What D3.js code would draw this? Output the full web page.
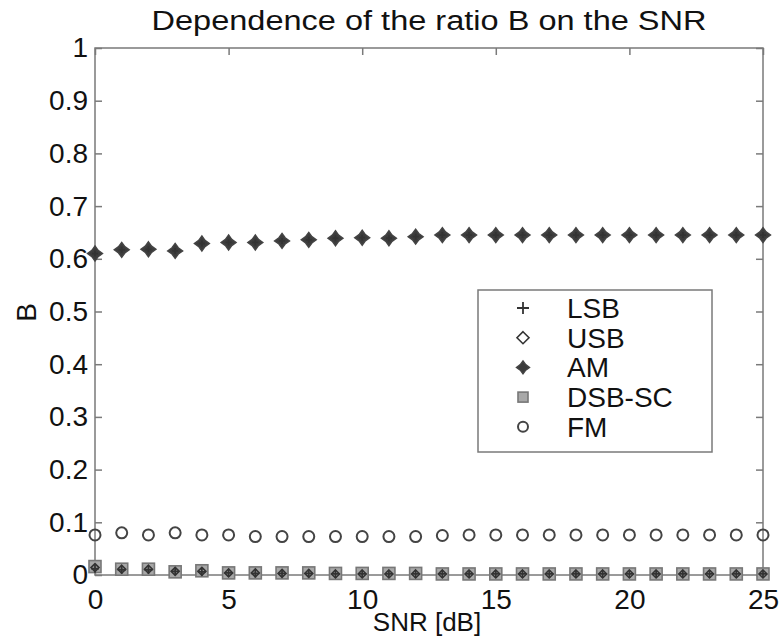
<!DOCTYPE html>
<html>
<head>
<meta charset="utf-8">
<script src="https://cdn.jsdelivr.net/npm/d3@7"></script>
<style>
  body { margin: 0; background: #fff; }
  text { font-family: "Liberation Sans", Arial, sans-serif; fill: #111; }
</style>
</head>
<body>
<div class="chart"></div>
<script>
var snr = [0,1,2,3,4,5,6,7,8,9,10,11,12,13,14,15,16,17,18,19,20,21,22,23,24,25];
var lsb = [0.012,0.01,0.01,0.007,0.006,0.004,0.003,0.003,0.003,0.002,0.002,0.002,0.002,0.002,0.002,0.002,0.002,0.002,0.002,0.002,0.002,0.002,0.002,0.002,0.002,0.002];
var usb = [0.014,0.011,0.011,0.007,0.007,0.004,0.004,0.003,0.003,0.002,0.002,0.002,0.002,0.002,0.002,0.002,0.002,0.002,0.002,0.002,0.002,0.002,0.002,0.002,0.002,0.002];
var am = [0.61,0.617,0.618,0.615,0.629,0.631,0.631,0.634,0.636,0.639,0.64,0.639,0.642,0.645,0.645,0.645,0.645,0.645,0.645,0.645,0.645,0.645,0.645,0.645,0.645,0.645];
var dsbsc = [0.016,0.011,0.011,0.006,0.008,0.004,0.004,0.004,0.004,0.003,0.003,0.003,0.003,0.002,0.002,0.002,0.002,0.002,0.002,0.002,0.002,0.002,0.002,0.002,0.002,0.002];
var fm = [0.076,0.08,0.076,0.08,0.076,0.076,0.073,0.073,0.073,0.073,0.073,0.073,0.073,0.075,0.076,0.076,0.076,0.076,0.076,0.076,0.076,0.076,0.076,0.076,0.076,0.076];
var seriesNames = ['LSB','USB','AM','DSB-SC','FM'];
var xTicks = [0,5,10,15,20,25];
var yTicks = [0,0.1,0.2,0.3,0.4,0.5,0.6,0.7,0.8,0.9,1];

var W = 779, H = 640;
var margin = {top:48, right:16, bottom:65, left:95};
var width = W - margin.left - margin.right;
var height = H - margin.top - margin.bottom;
var fontSize = '28px';

var svg = d3.select('div.chart').append('svg')
    .attr('width', W)
    .attr('height', H);
var g = svg.append('g')
    .attr('transform', 'translate(' + margin.left + ',' + margin.top + ')');

var x = d3.scaleLinear().domain([0, 25]).range([0, width]);
var y = d3.scaleLinear().domain([0, 1]).range([height, 0]);

var axisColor = '#7a7a7a';
function styleAxis(sel, hideText) {
  sel.select('.domain').remove();
  sel.selectAll('line').attr('stroke', axisColor).attr('stroke-width', 1.5);
  sel.selectAll('text').style('font-size', fontSize).attr('fill', '#111');
  if (hideText) sel.selectAll('text').remove();
}

// inward ticks on all sides
g.append('g').attr('transform', 'translate(0,' + height + ')')
  .call(d3.axisBottom(x).tickValues(xTicks).tickFormat(d3.format('d')).tickSizeInner(-7).tickPadding(14))
  .call(styleAxis, false);
g.append('g')
  .call(d3.axisTop(x).tickValues(xTicks).tickSizeInner(-7))
  .call(styleAxis, true);
g.append('g')
  .call(d3.axisLeft(y).tickValues(yTicks).tickFormat(function(d){ return d === 0 || d === 1 ? d3.format('d')(d) : d3.format('.1f')(d); }).tickSizeInner(-7).tickPadding(7))
  .call(styleAxis, false);
g.append('g').attr('transform', 'translate(' + width + ',0)')
  .call(d3.axisRight(y).tickValues(yTicks).tickSizeInner(-7))
  .call(styleAxis, true);

g.append('rect')
  .attr('width', width).attr('height', height)
  .attr('fill', 'none').attr('stroke', axisColor).attr('stroke-width', 1.5);

// markers
var markColor = '#333';
function plus(sel, s) {
  sel.append('path').attr('d', 'M' + (-s) + ',0H' + s + 'M0,' + (-s) + 'V' + s)
    .attr('stroke', markColor).attr('stroke-width', 1.8).attr('fill', 'none');
}
function diamond(sel, s) {
  sel.append('path').attr('d', 'M0,' + (-s) + 'L' + s + ',0L0,' + s + 'L' + (-s) + ',0Z')
    .attr('stroke', markColor).attr('stroke-width', 1.6).attr('fill', 'none');
}
function star(sel, s) {
  var k = 0.42;
  sel.append('path').attr('d', 'M0,' + (-s) + 'L' + (s*k) + ',' + (-s*k) + 'L' + s + ',0L' + (s*k) + ',' + (s*k) +
      'L0,' + s + 'L' + (-s*k) + ',' + (s*k) + 'L' + (-s) + ',0L' + (-s*k) + ',' + (-s*k) + 'Z')
    .attr('stroke', '#444').attr('stroke-width', 1.4).attr('fill', '#3c3c3c');
}
function square(sel, s) {
  sel.append('rect').attr('x', -s).attr('y', -s).attr('width', 2*s).attr('height', 2*s)
    .attr('stroke', '#777').attr('stroke-width', 1.6).attr('fill', '#a8a8a8');
}
function circle(sel, s) {
  sel.append('circle').attr('r', s)
    .attr('stroke', '#444').attr('stroke-width', 2).attr('fill', 'none');
}

var series = [
  {name: seriesNames[3], values: dsbsc, draw: function(s){ square(s, 6); }, legend: function(s){ square(s, 5); }},
  {name: seriesNames[0], values: lsb, draw: function(s){ plus(s, 4); }, legend: function(s){ plus(s, 6); }},
  {name: seriesNames[1], values: usb, draw: function(s){ diamond(s, 4); }, legend: function(s){ diamond(s, 6); }},
  {name: seriesNames[2], values: am, draw: function(s){ star(s, 7.5); plus(s, 3); }, legend: function(s){ star(s, 6.5); }},
  {name: seriesNames[4], values: fm, draw: function(s){ circle(s, 5.5); }, legend: function(s){ circle(s, 5); }}
];

series.forEach(function(sr) {
  g.selectAll(null)
    .data(sr.values)
    .enter()
    .append('g')
    .attr('transform', function(d, i) { return 'translate(' + x(snr[i]) + ',' + y(d) + ')'; })
    .each(function() { sr.draw(d3.select(this)); });
});

// legend
var legend = svg.append('g').attr('transform', 'translate(478,290)');
legend.append('rect')
  .attr('width', 234).attr('height', 162)
  .attr('fill', '#fff').attr('stroke', axisColor).attr('stroke-width', 1.5);
var order = [1, 2, 3, 0, 4];
order.forEach(function(k, i) {
  var row = legend.append('g').attr('transform', 'translate(45,' + (18 + i * 29.7) + ')');
  series[k].legend(row);
  row.append('text').attr('x', 44).attr('y', 10).style('font-size', fontSize).text(series[k].name);
});

// titles
svg.append('text')
  .attr('x', margin.left + width / 2).attr('y', 30)
  .attr('text-anchor', 'middle').style('font-size', '27px')
  .attr('textLength', 555).attr('lengthAdjust', 'spacingAndGlyphs')
  .text('Dependence of the ratio B on the SNR');
svg.append('text')
  .attr('x', margin.left + width / 2 - 2).attr('y', 631)
  .attr('text-anchor', 'middle').style('font-size', '26px')
  .text('SNR [dB]');
svg.append('text')
  .attr('transform', 'translate(36,' + (margin.top + height / 2 + 1) + ') rotate(-90)')
  .attr('text-anchor', 'middle').style('font-size', fontSize)
  .text('B');
</script>
</body>
</html>
